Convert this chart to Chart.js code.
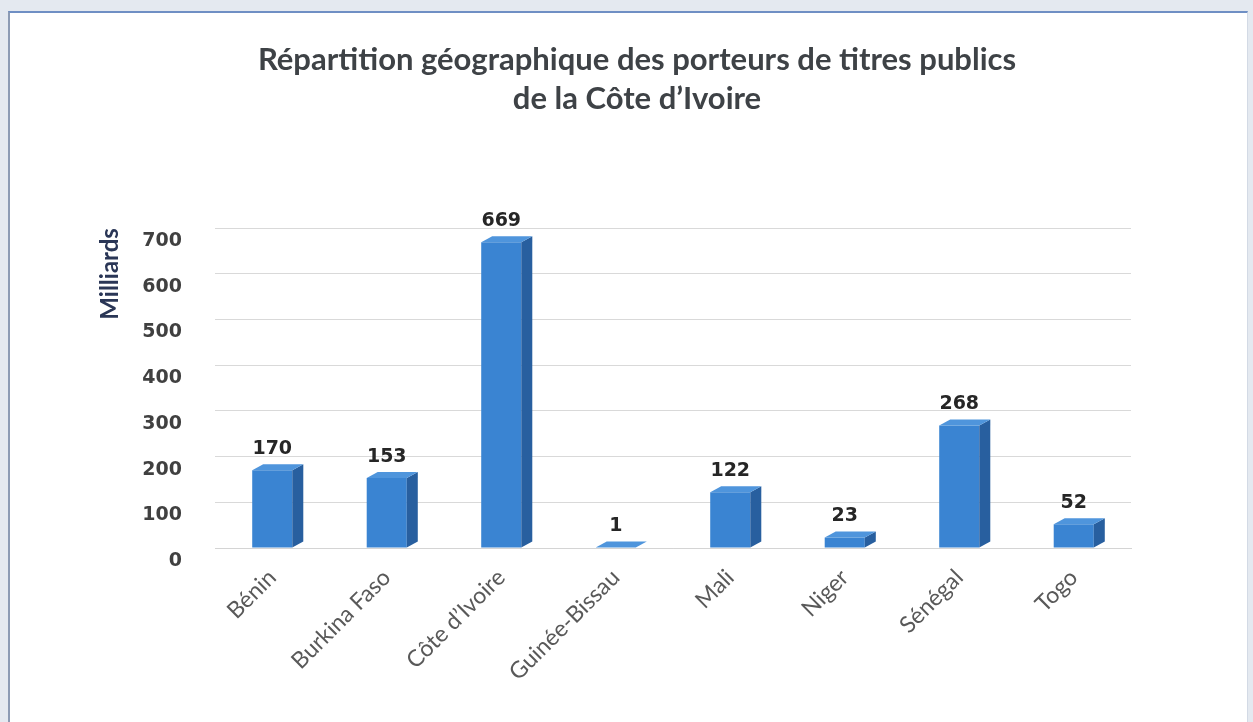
<!DOCTYPE html>
<html>
<head>
<meta charset="utf-8">
<script src="https://cdn.jsdelivr.net/npm/chart.js@4.4.0/dist/chart.umd.min.js"></script>
<style>
body { margin: 0; background: #e4e9f0; }
#frame { position: absolute; left: 8px; top: 11px; width: 1237px; height: 715px; background: #fff;
  border-top: 2px solid #6f8fc4; border-left: 2px solid #8c9bb4; border-right: 1px solid #d3dae5; }
#myChart { position: absolute; left: 0; top: 0; }
</style>
</head>
<body>
<div id="frame"></div>
<canvas id="myChart" width="1253" height="722"></canvas>
<script>
const pays = ['Bénin', 'Burkina Faso', 'Côte d’Ivoire', 'Guinée-Bissau', 'Mali', 'Niger', 'Sénégal', 'Togo'];
const montants = [170, 153, 669, 1, 122, 23, 268, 52];
const graduations = [0, 100, 200, 300, 400, 500, 600, 700];

const ctx = document.querySelector('#myChart');

// faces laterales et dessus des barres pour l'effet 3D, plus les valeurs
const relief = {
    id: 'relief',
    afterDatasetsDraw(chart) {
        const c = chart.ctx;
        const meta = chart.getDatasetMeta(0);
        const dx = 11, dy = 6;
        c.save();
        meta.data.forEach((bar, i) => {
            const l = bar.x - bar.width / 2, r = bar.x + bar.width / 2;
            const top = bar.y, bas = bar.base;
            c.fillStyle = '#285f9f';
            c.beginPath();
            c.moveTo(r, top); c.lineTo(r + dx, top - dy); c.lineTo(r + dx, bas - dy); c.lineTo(r, bas);
            c.closePath(); c.fill();
            c.fillStyle = '#4f95dc';
            c.beginPath();
            c.moveTo(l, top); c.lineTo(l + dx, top - dy); c.lineTo(r + dx, top - dy); c.lineTo(r, top);
            c.closePath(); c.fill();
            c.fillStyle = '#262626';
            c.font = 'bold 19px "DejaVu Sans"';
            c.textAlign = 'center';
            c.textBaseline = 'middle';
            c.fillText(montants[i], bar.x, top - 21);
        });
        c.restore();
    }
};

new Chart(ctx, {
    type: 'bar',
    data: {
        labels: pays,
        datasets: [{
            label: 'Milliards',
            data: montants,
            backgroundColor: '#3a84d2',
            borderWidth: 0,
            barPercentage: 0.35,
            categoryPercentage: 1
        }]
    },
    options: {
        responsive: false,
        animation: false,
        layout: { padding: { left: 143, right: 122, top: 0, bottom: 0 } },
        plugins: {
            legend: { display: false },
            tooltip: { enabled: false },
            title: {
                display: true,
                text: ['Répartition géographique des porteurs de titres publics', 'de la Côte d’Ivoire'],
                color: '#3e4246',
                font: { family: 'Lato', size: 31, weight: 'bold', lineHeight: 1.26 },
                padding: { top: 40, bottom: 110 }
            }
        },
        scales: {
            x: {
                grid: { display: false },
                border: { display: true, color: '#d4d4d4' },
                ticks: {
                    color: '#595959',
                    font: { family: 'Lato', size: 23 },
                    minRotation: 45,
                    maxRotation: 45,
                    padding: 8
                },
                afterFit(scale) { scale.height = 174; }
            },
            y: {
                min: 0,
                max: 700,
                afterBuildTicks(axis) { axis.ticks = graduations.map(v => ({ value: v })); },
                grid: { color: '#d9d9d9', drawTicks: false },
                border: { display: false },
                ticks: {
                    color: '#404040',
                    font: { family: 'DejaVu Sans', size: 19, weight: 'bold' },
                    padding: 33,
                    labelOffset: 13
                },
                title: {
                    display: true,
                    text: 'Milliards',
                    align: 'end',
                    color: '#2a3656',
                    font: { family: 'Lato', size: 24, weight: 'bold' },
                    padding: { top: -47, bottom: 0 }
                },
                afterFit(scale) { scale.width = 72; }
            }
        }
    },
    plugins: [relief]
});
</script>
</body>
</html>
